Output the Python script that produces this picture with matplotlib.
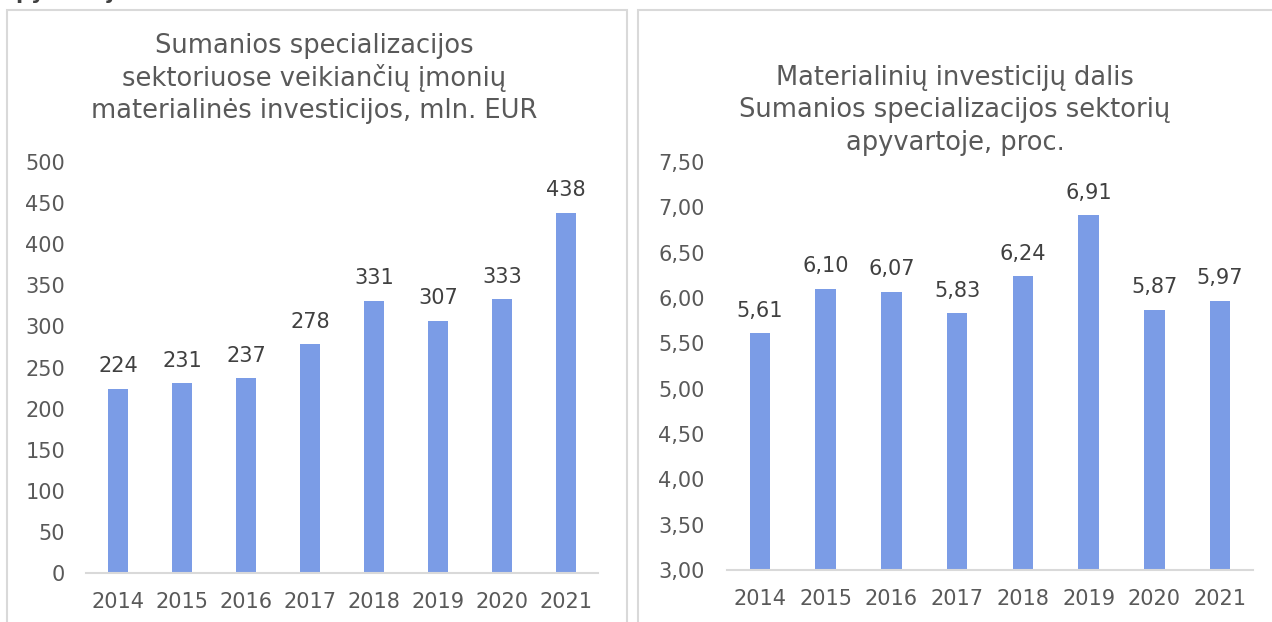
import matplotlib
matplotlib.use("Agg")
import matplotlib.pyplot as plt
from matplotlib.patches import Rectangle

years = ["2014", "2015", "2016", "2017", "2018", "2019", "2020", "2021"]
investments = [224, 231, 237, 278, 331, 307, 333, 438]
share = [5.61, 6.10, 6.07, 5.83, 6.24, 6.91, 5.87, 5.97]
left_ticks = [0, 50, 100, 150, 200, 250, 300, 350, 400, 450, 500]
right_ticks = [3.0, 3.5, 4.0, 4.5, 5.0, 5.5, 6.0, 6.5, 7.0, 7.5]
left_title = ["Sumanios specializacijos", "sektoriuose veikiančių įmonių",
              "materialinės investicijos, mln. EUR"]
right_title = ["Materialinių investicijų dalis", "Sumanios specializacijos sektorių",
               "apyvartoje, proc."]

W, H = 1272, 622
BAR = "#7B9CE6"
TXT = "#595959"
LBL = "#404040"
GRID = "#D9D9D9"
FS = 15
TFS = 18.5

plt.rcParams['font.family'] = ['DejaVu Sans']
fig = plt.figure(figsize=(W / 100, H / 100), dpi=100)
fig.patch.set_facecolor("white")


def px_axes(x0, x1, y_top, y_bot):
    return fig.add_axes([x0 / W, 1 - y_bot / H, (x1 - x0) / W, (y_bot - y_top) / H])


def style(ax, ypad):
    for s in ["top", "right", "left"]:
        ax.spines[s].set_visible(False)
    ax.spines["bottom"].set_color(GRID)
    ax.spines["bottom"].set_linewidth(1.5)
    ax.tick_params(axis="both", length=0, labelsize=FS, labelcolor=TXT)
    ax.tick_params(axis="x", pad=14)
    ax.tick_params(axis="y", pad=ypad)
    ax.set_facecolor("none")


# panel borders
fig.add_artist(Rectangle((7 / W, -0.05), (627 - 7) / W, 1 - 10 / H + 0.05,
                         transform=fig.transFigure, fill=False, edgecolor=GRID, lw=1.5))
fig.add_artist(Rectangle((638 / W, -0.05), 0.5, 1 - 10 / H + 0.05,
                         transform=fig.transFigure, fill=False, edgecolor=GRID, lw=1.5))

# cut-off text at the very top-left (only descenders visible)
fig.text(2 / W, 1 + 1 / H, "apyvartoje", fontsize=15, color=LBL, fontweight="bold",
         ha="left", va="baseline")

x = list(range(len(years)))

# Left chart
ax1 = px_axes(86, 598, 162, 573)
ax1.bar(x, investments, width=0.31, color=BAR)
ax1.set_xlim(-0.5, len(years) - 0.5)
ax1.set_ylim(0, 500)
ax1.set_yticks(left_ticks)
ax1.set_yticklabels([str(t) for t in left_ticks])
ax1.set_xticks(x)
ax1.set_xticklabels(years)
style(ax1, 15)
for xi, v in zip(x, investments):
    ax1.annotate(str(v), (xi, v), xytext=(0, 9), textcoords="offset points",
                 ha="center", va="bottom", fontsize=FS, color=LBL)

# Right chart
ax2 = px_axes(727, 1253, 162, 570)
ax2.bar(x, share, width=0.31, color=BAR)
ax2.set_xlim(-0.5, len(years) - 0.5)
ax2.set_ylim(3, 7.5)
ax2.set_yticks(right_ticks)
ax2.set_yticklabels([f"{t:.2f}".replace(".", ",") for t in right_ticks])
ax2.set_xticks(x)
ax2.set_xticklabels(years)
style(ax2, 16)
for xi, v in zip(x, share):
    ax2.annotate(f"{v:.2f}".replace(".", ","), (xi, v), xytext=(0, 9), textcoords="offset points",
                 ha="center", va="bottom", fontsize=FS, color=LBL)

# Titles
for i, line in enumerate(left_title):
    fig.text(314 / W, 1 - (46 + 32.5 * i) / H, line, ha="center", va="center",
             fontsize=TFS, color=TXT)
for i, line in enumerate(right_title):
    fig.text(955 / W, 1 - (78 + 32.5 * i) / H, line, ha="center", va="center",
             fontsize=TFS, color=TXT)

fig.savefig("out.png", dpi=100, facecolor="white")
